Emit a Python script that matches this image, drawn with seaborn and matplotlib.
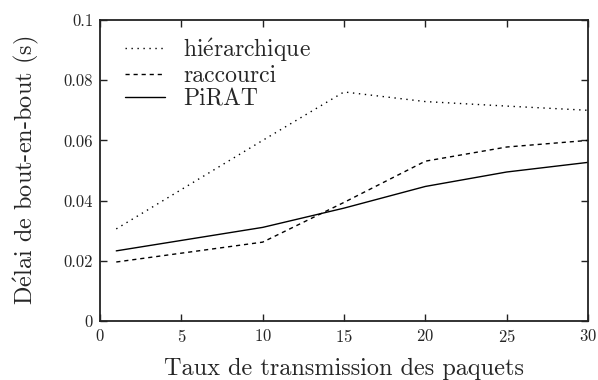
import matplotlib
matplotlib.use("Agg")
import matplotlib.pyplot as plt
import seaborn as sns
import pandas as pd
from matplotlib.ticker import FuncFormatter

x_vals = [1, 10, 15, 20, 25, 30]
hierarchique = [0.0306, 0.0600, 0.0761, 0.0729, 0.0714, 0.0700]
raccourci = [0.0196, 0.0262, 0.0394, 0.0531, 0.0578, 0.0600]
pirat = [0.0233, 0.0311, 0.0375, 0.0447, 0.0495, 0.0527]
series_names = ["hiérarchique", "raccourci", "PiRAT"]
legend_labels = [r"hi$\mathrm{\acute{e}}$rarchique", "raccourci", "PiRAT"]
x_ticks = [0, 5, 10, 15, 20, 25, 30]
y_ticks = [0, 0.02, 0.04, 0.06, 0.08, 0.1]
x_label = "Taux de transmission des paquets"
y_label = r"D$\mathrm{\acute{e}}$lai de bout-en-bout (s)"

sns.set_style("ticks")
plt.rcParams['font.family'] = ['cmr10', 'DejaVu Serif']
plt.rcParams['axes.formatter.use_mathtext'] = True
plt.rcParams['mathtext.fontset'] = 'cm'

df = pd.DataFrame({
    "x": x_vals * 3,
    "y": hierarchique + raccourci + pirat,
    "s": [series_names[0]] * 6 + [series_names[1]] * 6 + [series_names[2]] * 6,
})

fig = plt.figure(figsize=(5.98, 3.8), dpi=100)
ax = fig.add_axes([100/598, 59/380, 488/598, 301/380])

styles = {"hiérarchique": (0, (1, 3.3)), "raccourci": (0, (3, 2.8)), "PiRAT": "-"}
for name, lab in zip(series_names, legend_labels):
    sub = df[df.s == name]
    sns.lineplot(data=sub, x="x", y="y", ax=ax, color="black", lw=1.0,
                 linestyle=styles[name], label=lab)

ax.set_xlim(0, 30)
ax.set_ylim(0, 0.1)
ax.set_xticks(x_ticks)
ax.set_yticks(y_ticks)
ax.yaxis.set_major_formatter(FuncFormatter(lambda v, p: "%g" % round(v, 3)))
ax.tick_params(direction="in", top=True, right=True, length=5, width=1,
               labelsize=12, pad=5, color="#222222")
for sp in ax.spines.values():
    sp.set_linewidth(1.3)
    sp.set_color("#222222")
ax.set_xlabel(x_label, fontsize=17.5, labelpad=9)
ax.set_ylabel(y_label, fontsize=17.5, labelpad=16)
leg = ax.legend(loc="upper left", frameon=False, fontsize=17, handlelength=1.7,
                handletextpad=0.76, labelspacing=0.05, borderaxespad=0.0,
                bbox_to_anchor=(0.032, 0.978))
fig.savefig("out.png", dpi=100)
